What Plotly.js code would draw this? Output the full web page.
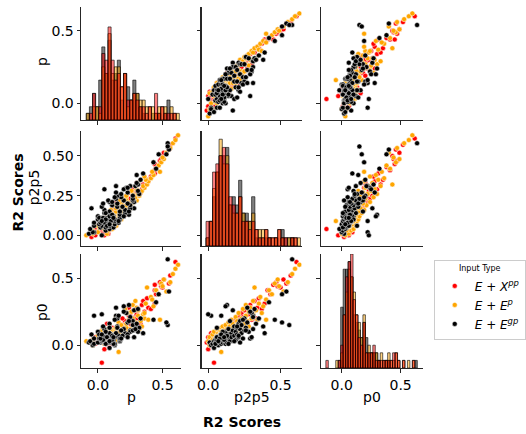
<!DOCTYPE html>
<html><head><meta charset="utf-8">
<script src="https://cdn.plot.ly/plotly-3.0.1.min.js"></script>
<style>html,body{margin:0;padding:0;background:#fff}#chart{width:526px;height:434px}</style>
</head><body><div id="chart"></div>
<script>
const varNames = ['p', 'p2p5', 'p0'];
const groupNames = ['<i>E</i> + <i>X</i><sup><i>pp</i></sup>', '<i>E</i> + <i>E</i><sup><i>p</i></sup>', '<i>E</i> + <i>E</i><sup><i>gp</i></sup>'];
const groupColors = ['#ff0000', '#ffa500', '#000000'];
const histFill = ['rgba(255,0,0,0.5)', 'rgba(255,165,0,0.5)', 'rgba(0,0,0,0.5)'];

// E + X^pp
const redP2p5 = [-0.01,0.00,0.00,0.01,0.02,0.02,0.03,0.03,0.04,0.04, 0.05,0.05,0.05,0.06,0.06,0.06,0.07,0.07,0.07,0.08, 0.08,0.08,0.09,0.09,0.09,0.09,0.10,0.10,0.10,0.10, 0.11,0.11,0.11,0.11,0.12,0.12,0.12,0.13,0.13,0.13, 0.14,0.14,0.14,0.15,0.15,0.15,0.16,0.16,0.16,0.17, 0.17,0.18,0.18,0.18,0.19,0.19,0.20,0.20,0.21,0.21,
  0.22,0.22,0.23,0.23,0.24,0.25,0.25,0.26,0.27,0.27, 0.28,0.29,0.30,0.31,0.32,0.33,0.34,0.35,0.37,0.39,
  0.41,0.43,0.45,0.47,0.48,0.50,0.52,0.54,0.57,0.61,
  0.06,0.08,0.05,0.09,0.07,0.10,0.04,0.11,0.08,0.12,0.06,0.09,0.10,0.07,0.11];
const redP = [-0.05,0.05,-0.02,0.08,-0.04,0.05,0.03,-0.02,0.10,0.03, 0.09,-0.02,0.07,0.14,0.03,0.11,0.01,0.08,0.13,0.04, 0.11,0.06,0.16,0.04,0.09,0.13,0.02,0.16,0.09,0.12, 0.06,0.18,0.08,0.15,0.06,0.13,0.17,0.11,0.21,0.09, 0.16,0.07,0.20,0.15,0.12,0.20,0.11,0.19,0.23,0.16, 0.21,0.12,0.20,0.14,0.25,0.19,0.18,0.25,0.14,0.24,
  0.18,0.27,0.25,0.20,0.29,0.22,0.31,0.28,0.24,0.33, 0.30,0.34,0.27,0.36,0.35,0.30,0.39,0.38,0.41,0.44,
  0.44,0.45,0.44,0.48,0.49,0.50,0.51,0.55,0.56,0.60,
  0.05,0.07,0.08,0.06,0.10,0.09,0.04,0.11,0.05,0.10,0.09,0.12,0.07,0.06,0.08];
const redP0 = [0.02,-0.03,0.06,0.00,0.04,0.09,0.03,0.01,0.05,-0.13, 0.07,0.02,0.10,0.04,0.06,0.08,0.03,0.11,0.05,0.07, 0.01,0.09,0.04,0.12,0.06,0.08,0.03,0.10,0.07,0.05, 0.09,0.14,0.06,0.08,0.11,0.04,0.07,0.13,0.09,0.05, 0.10,0.16,0.08,0.12,0.06,0.11,0.09,0.15,0.07,0.13, 0.18,0.10,0.14,0.08,0.12,0.20,0.11,0.16,0.09,0.22,
  0.13,0.19,0.24,0.15,0.21,0.12,0.26,0.18,0.28,0.16, 0.23,0.30,0.19,0.25,0.33,0.20,0.28,0.35,0.27,0.31,
  0.41,0.38,0.45,0.47,0.44,0.43,0.49,0.46,0.52,0.62,
  0.04,0.06,0.03,0.08,0.05,0.07,0.09,0.06,0.02,0.09,0.07,0.04,0.10,0.05,0.08];

// E + E^p
const orangeP2p5 = [0.00,0.01,0.01,0.02,0.03,0.03,0.04,0.04,0.05,0.05, 0.06,0.06,0.06,0.07,0.07,0.07,0.08,0.08,0.08,0.09, 0.09,0.09,0.09,0.10,0.10,0.10,0.11,0.11,0.11,0.12, 0.12,0.12,0.13,0.13,0.13,0.14,0.14,0.14,0.15,0.15, 0.16,0.16,0.16,0.17,0.17,0.18,0.18,0.19,0.19,0.20, 0.20,0.21,0.21,0.22,0.22,0.23,0.23,0.24,0.24,0.25,
  0.25,0.26,0.26,0.27,0.28,0.28,0.29,0.30,0.31,0.31, 0.32,0.33,0.34,0.35,0.36,0.37,0.38,0.40,0.42,0.44,
  0.09,0.40,0.46,0.48,0.49,0.52,0.55,0.58,0.60,0.63,
  0.07,0.09,0.05,0.10,0.08,0.11,0.06,0.12,0.09,0.08,0.10,0.13,0.07,0.11,0.09];
const orangeP = [-0.09,-0.04,0.07,0.00,0.08,-0.04,0.05,0.11,0.01,0.07, 0.00,0.10,0.14,0.04,0.07,0.13,0.03,0.11,0.07,0.16, 0.05,0.14,0.03,0.12,0.18,0.08,0.15,0.04,0.12,0.18, 0.09,0.17,0.13,0.08,0.20,0.16,0.10,0.20,0.14,0.19, 0.10,0.24,0.17,0.14,0.22,0.18,0.25,0.14,0.22,0.18, 0.26,0.17,0.23,0.30,0.16,0.27,0.22,0.29,0.21,0.32,
  0.22,0.31,0.27,0.33,0.26,0.34,0.30,0.36,0.29,0.35, 0.38,0.31,0.39,0.37,0.41,0.36,0.43,0.42,0.45,0.47,
  0.16,0.48,0.49,0.51,0.50,0.53,0.56,0.58,0.60,0.62,
  0.06,0.08,0.07,0.11,0.05,0.09,0.10,0.12,0.06,0.11,0.04,0.10,0.08,0.13,0.09];
const orangeP0 = [0.03,0.00,0.06,0.02,0.08,0.04,0.01,0.10,0.05,0.03, 0.07,0.12,0.04,0.09,0.02,0.06,0.11,0.08,0.05,0.13, 0.07,0.03,0.10,0.06,0.14,0.09,0.04,0.08,0.11,0.07, 0.15,0.05,0.10,0.12,0.08,0.17,0.06,0.11,0.09,0.14, 0.10,0.19,0.08,0.13,0.16,0.07,0.12,0.21,0.10,0.15, 0.18,0.11,0.24,0.14,0.09,0.20,0.13,0.17,0.27,0.12,
  0.16,0.22,0.30,0.18,0.25,0.14,0.28,0.20,0.33,0.23, 0.43,0.26,0.19,0.31,0.36,0.24,0.29,0.34,0.41,0.38,
  -0.05,0.19,0.46,0.49,0.44,0.40,0.47,0.53,0.57,0.60,
  0.05,0.07,0.04,0.08,0.06,0.09,0.03,0.07,0.10,0.05,0.06,0.08,0.02,0.06,0.04];

// E + E^gp
const blackP2p5 = [0.58,0.54,0.51,0.56,0.51,0.46,0.29,0.31,0.38,0.39,0.02,0.00,0.17,0.13,0.17,0.42,
  0.01,0.02,0.03,0.04,0.04,0.05,0.05,0.06,0.06,0.07, 0.07,0.08,0.08,0.08,0.09,0.09,0.09,0.10,0.10,0.10, 0.11,0.11,0.11,0.12,0.12,0.12,0.13,0.13,0.14,0.14, 0.15,0.15,0.16,0.16,0.17,0.18,0.18,0.19,0.19,0.20, 0.20,0.21,0.21,0.22,0.22,0.23,0.23,0.24,0.25,0.25, 0.26,0.27,0.28,0.30,
  0.31,0.31,0.32,0.33,0.22,0.21,0.24,0.26,0.29,0.30, 0.12,0.15,0.18,0.09,0.06,0.11,0.14,0.35,0.27,0.20,
  0.06,0.08,0.05,0.10,0.07,0.09,0.11,0.12,0.06,0.08,0.13,0.10,0.07,0.09,0.11];
const blackP = [0.54,0.55,0.47,0.54,0.53,0.43,0.05,0.14,0.30,0.35,-0.03,0.03,-0.05,0.24,0.28,0.45,
  -0.07,-0.04,0.06,-0.06,0.09,0.02,0.12,-0.03,0.08,0.02, 0.13,-0.03,0.09,0.16,0.02,0.13,0.07,0.17,0.00,0.13, 0.06,0.17,0.03,0.12,0.20,0.00,0.17,0.09,0.21,0.05, 0.17,0.09,0.21,0.05,0.25,0.15,0.19,0.11,0.25,0.15, 0.23,0.09,0.28,0.20,0.27,0.14,0.27,0.18,0.27,0.15, 0.32,0.23,0.31,0.22,
  0.25,0.29,0.31,0.30,0.08,0.11,0.13,0.18,0.20,0.23, 0.20,0.24,0.03,0.16,0.09,0.01,0.06,0.33,0.14,0.04,
  0.03,0.05,0.06,0.08,0.01,0.10,0.04,0.09,0.07,0.02,0.11,0.06,0.09,0.03,0.12];
const blackP0 = [0.64,0.40,0.38,0.15,0.17,0.19,0.05,0.22,0.14,0.09,0.22,0.23,0.08,0.30,0.26,0.32,
  0.02,0.00,0.01,0.03,-0.02,0.02,0.04,0.01,0.06,0.03, 0.00,0.05,0.02,0.07,0.03,0.01,0.08,0.04,0.02,0.06, 0.09,0.03,0.05,0.01,0.07,0.10,0.04,0.02,0.08,0.12, 0.05,0.03,0.09,0.06,0.11,0.14,0.07,0.04,0.10,0.13, 0.08,0.16,0.06,0.12,0.18,0.09,0.15,0.05,0.11,0.20, 0.13,0.17,0.10,0.24,
  0.21,0.12,0.27,0.16,0.02,0.07,0.19,0.11,0.25,0.06, 0.29,0.18,0.03,0.22,0.13,0.08,0.01,0.20,0.28,0.14,
  0.04,0.06,0.01,0.07,0.05,0.08,0.04,0.09,0.06,0.05,0.07,0.10,0.03,0.08,0.06];

const groups = [
  {p: redP, p2p5: redP2p5, p0: redP0},
  {p: orangeP, p2p5: orangeP2p5, p0: orangeP0},
  {p: blackP, p2p5: blackP2p5, p0: blackP0}
];

// layout geometry
const W = 526, H = 434;
const colPx = [[83,185],[206,308],[328,432]];
const rowPx = [[7,120],[131,246],[254,368]];
const colDom = colPx.map(a => [a[0]/W, a[1]/W]);
const rowDom = rowPx.map(a => [1 - a[1]/H, 1 - a[0]/H]);
const xRanges = [[-0.129,0.644],[-0.045,0.645],[-0.175,0.69]];
const yRanges = [[-0.115,0.664],[-0.067,0.657],[-0.17,0.68]];
const xTickVals = [0, 0.5];
const xTickText = ['0.0', '0.5'];
const yTickVals = [[0, 0.5], [0, 0.25, 0.5], [0, 0.5]];
const yTickText = [['0.0','0.5'], ['0.00','0.25','0.50'], ['0.0','0.5']];
const binStart = [-0.09, -0.015, -0.135];
const binEnd = [0.66, 0.66, 0.70];
const binSize = [0.024, 0.0225, 0.021];
const histMax = [17, 14, 15];
const yLabelX = [43, 35, 43];

const ax = k => (k === 1 ? '' : String(k));
const font = {family: 'DejaVu Sans', size: 14, color: '#000'};
const common = {showgrid:false, zeroline:false, showline:true, linecolor:'#262626', linewidth:1.2,
  ticks:'outside', ticklen:3.5, tickwidth:1, tickcolor:'#262626', tickfont:font, fixedrange:true};

const traces = [];
const layout = {
  width: W, height: H, margin: {l:0, r:0, t:0, b:0},
  paper_bgcolor: '#fff', plot_bgcolor: 'rgba(0,0,0,0)',
  showlegend: true, barmode: 'overlay', hovermode: false,
  legend: {x: 443/W, y: 1 - 260/H, xanchor:'left', yanchor:'top', bordercolor:'#cccccc', borderwidth:1,
    bgcolor:'#fff', tracegroupgap:0, font:{family:'DejaVu Sans', size:12, color:'#000'},
    title:{text:'Input Type', font:{family:'DejaVu Sans', size:8, color:'#000'}, side:'top center'}},
  annotations: []
};

for (let r = 0; r < 3; r++) {
  for (let c = 0; c < 3; c++) {
    const k = r*3 + c + 1;
    layout['xaxis'+ax(k)] = Object.assign({}, common, {domain: colDom[c], anchor: 'y'+ax(k), range: xRanges[c],
      tickmode:'array', tickvals: xTickVals, ticktext: xTickText, showticklabels: r === 2});
    layout['yaxis'+ax(k)] = Object.assign({}, common, {domain: rowDom[r], anchor: 'x'+ax(k), range: yRanges[r],
      tickmode:'array', tickvals: yTickVals[r], ticktext: yTickText[r], showticklabels: c === 0});
    if (r === c) {
      traces.push({type:'scatter', mode:'markers', x:[], y:[], xaxis:'x'+ax(k), yaxis:'y'+ax(k), showlegend:false, hoverinfo:'skip'});
      const oy = 10 + r;
      layout['yaxis'+oy] = {overlaying: 'y'+ax(k), anchor: 'x'+ax(k), range: [0, histMax[r]], visible:false,
        showgrid:false, zeroline:false, showline:false, showticklabels:false, ticks:'', fixedrange:true};
      for (let g = 2; g >= 0; g--) {
        traces.push({type:'histogram', x: groups[g][varNames[c]], xaxis:'x'+ax(k), yaxis:'y'+oy,
          bingroup: 'diag'+c, xbins: {start: binStart[c], end: binEnd[c], size: binSize[c]},
          showlegend:false, hoverinfo:'skip',
          marker:{color: histFill[g], line:{color:'rgba(0,0,0,0.6)', width:1}}});
      }
    } else {
      for (let g = 0; g < 3; g++) {
        traces.push({type:'scatter', mode:'markers', name: groupNames[g],
          x: groups[g][varNames[c]], y: groups[g][varNames[r]], xaxis:'x'+ax(k), yaxis:'y'+ax(k),
          showlegend: (r === 0 && c === 1), hoverinfo:'skip',
          marker:{color: groupColors[g], size:5, line:{color:'#fff', width:0.5}}});
      }
    }
  }
}

// axis labels
const rowCenters = [62, 187, 312];
const colCenters = colPx.map(a => (a[0]+a[1])/2);
for (let i = 0; i < 3; i++) {
  layout.annotations.push({text: varNames[i], xref:'paper', yref:'paper', x: yLabelX[i]/W, y: 1 - rowCenters[i]/H,
    textangle: -90, showarrow:false, xanchor:'center', yanchor:'middle', font: font});
  layout.annotations.push({text: varNames[i], xref:'paper', yref:'paper', x: colCenters[i]/W, y: 1 - 397/H,
    showarrow:false, xanchor:'center', yanchor:'middle', font: font});
}
layout.annotations.push({text:'<b>R2 Scores</b>', xref:'paper', yref:'paper', x: 247/W, y: 1 - 422/H,
  showarrow:false, xanchor:'center', yanchor:'middle', font:{family:'DejaVu Sans', size:14, color:'#000'}});
layout.annotations.push({text:'<b>R2 Scores</b>', xref:'paper', yref:'paper', x: 18/W, y: 1 - 193/H, textangle:-90,
  showarrow:false, xanchor:'center', yanchor:'middle', font:{family:'DejaVu Sans', size:14, color:'#000'}});

Plotly.newPlot('chart', traces, layout, {staticPlot:true, displayModeBar:false});
</script></body></html>
